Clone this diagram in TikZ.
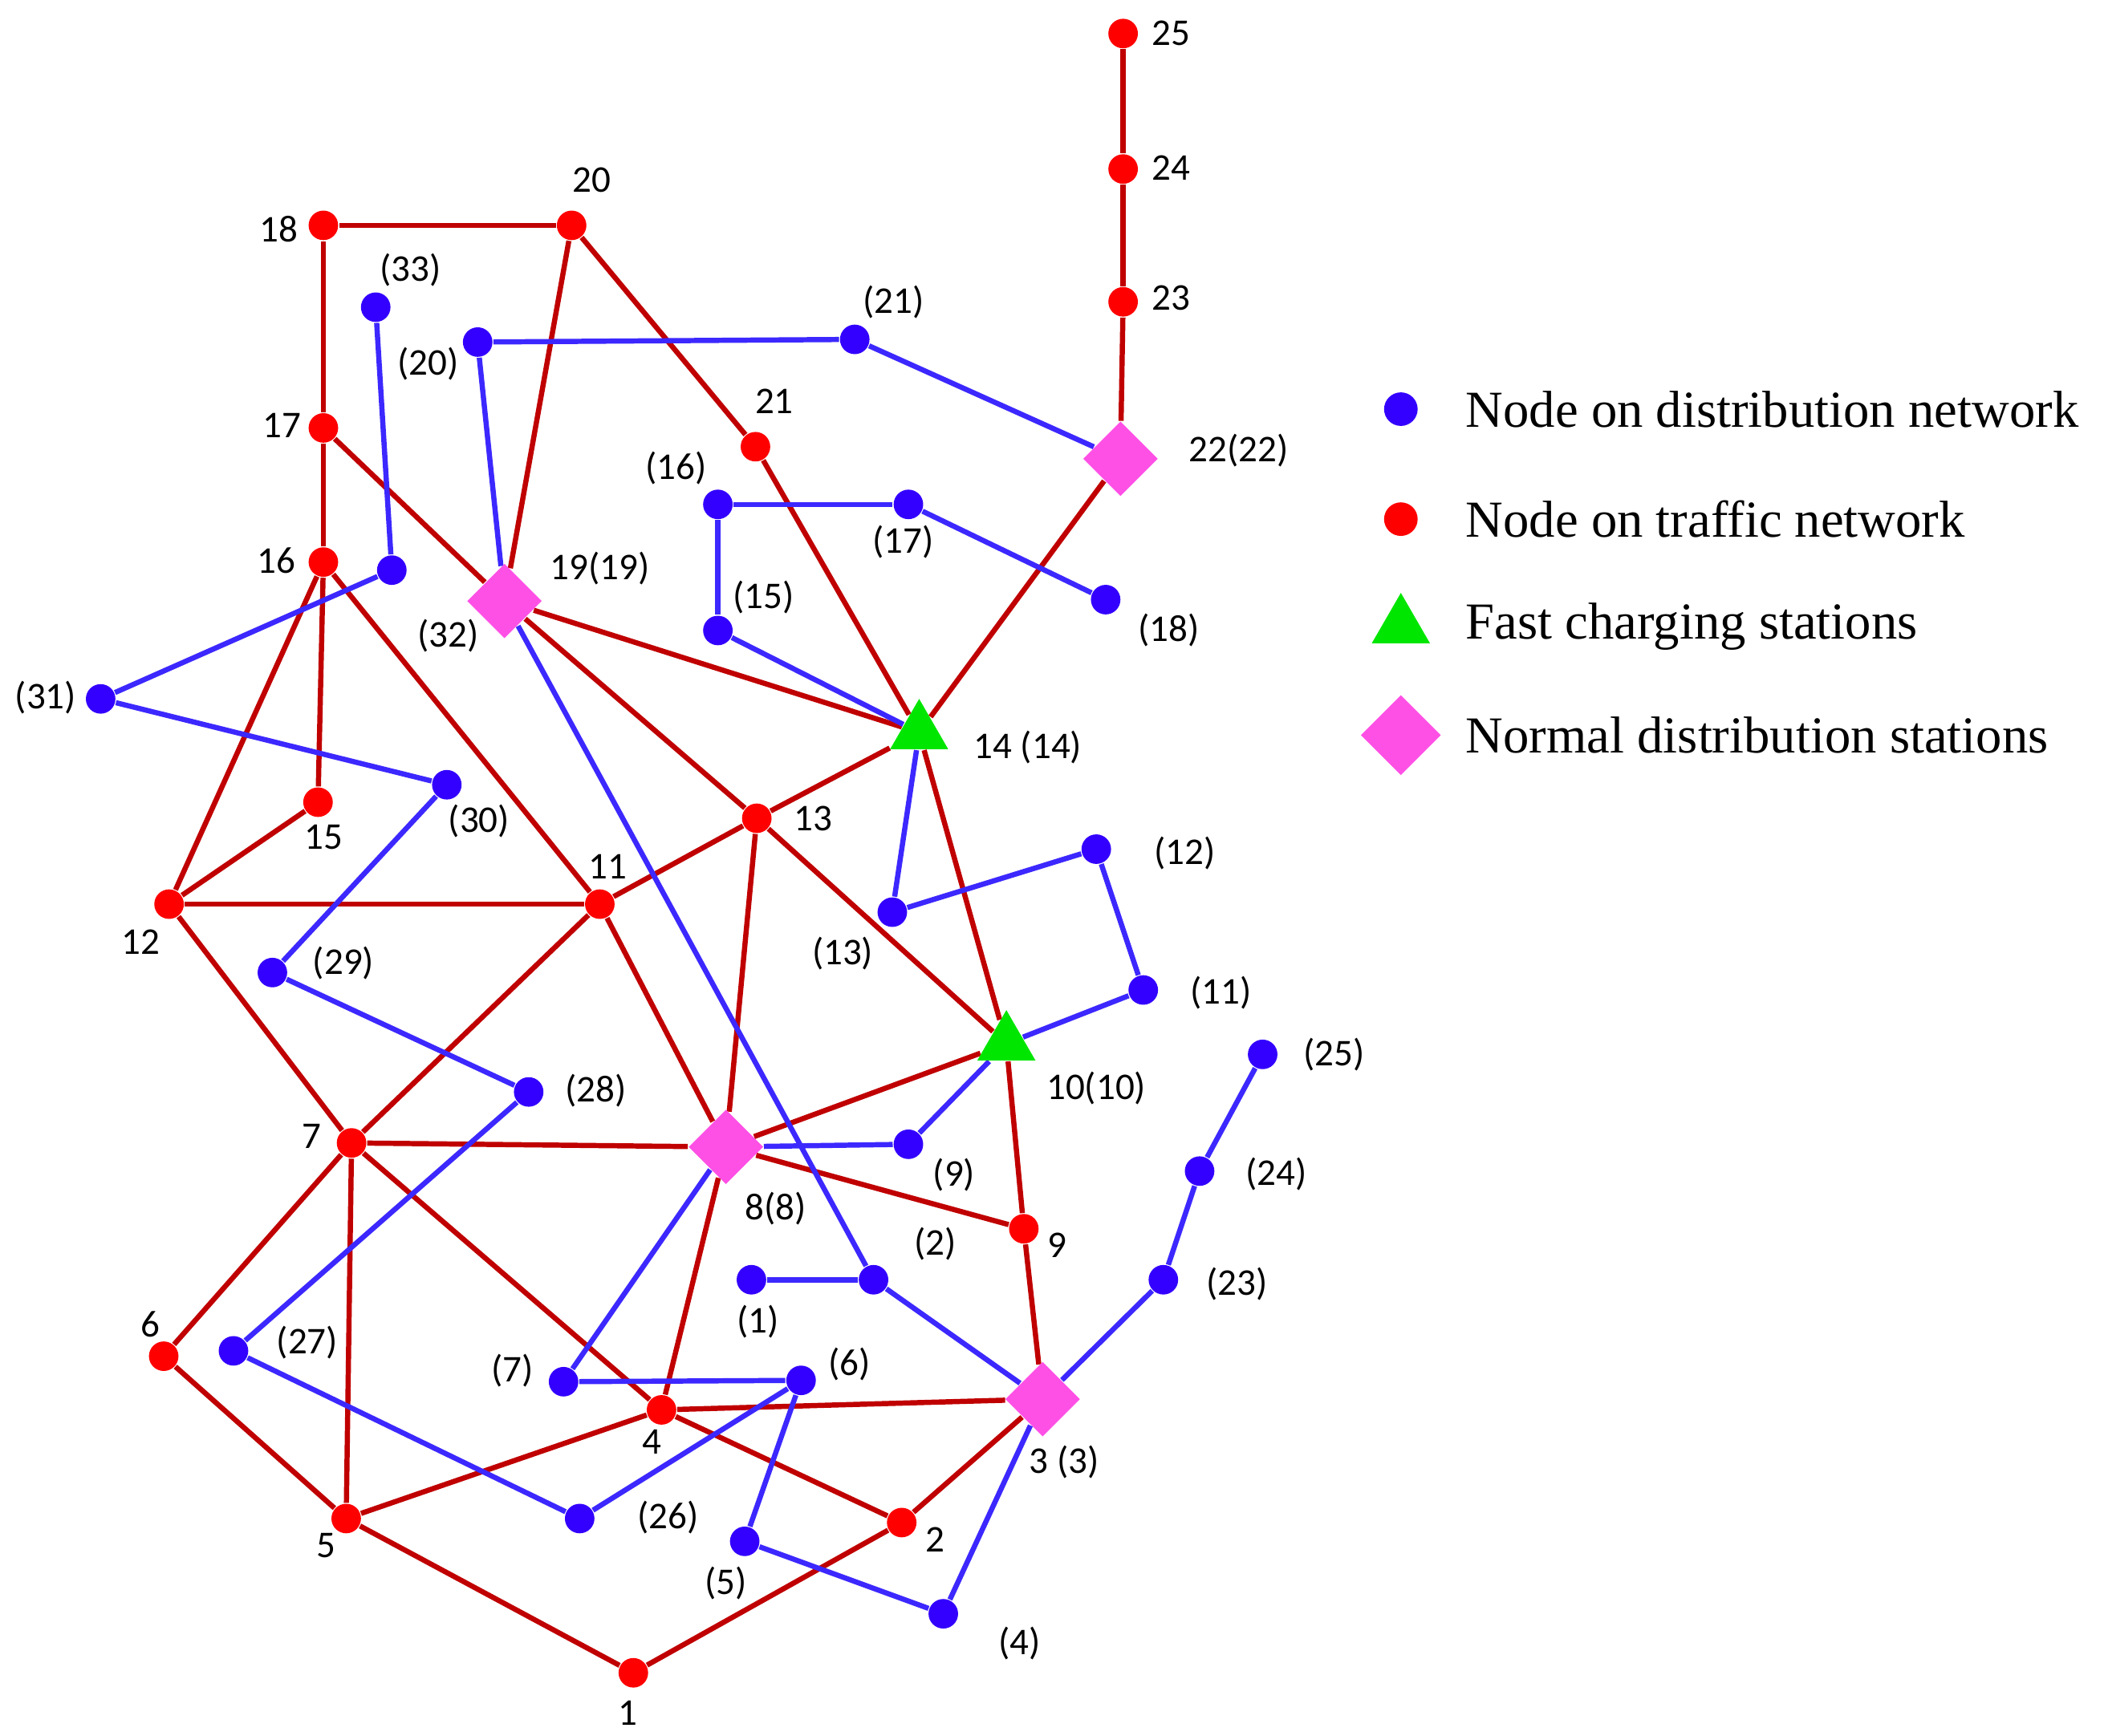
\documentclass[tikz,border=0pt]{standalone}
\usepackage{fontspec}
\setmainfont{Liberation Serif}
\newfontfamily\lblfont{Carlito}
\usetikzlibrary{positioning, shapes, backgrounds}
\definecolor{tred}{RGB}{255,0,0}
\definecolor{tline}{RGB}{192,0,0}
\definecolor{dblue}{RGB}{51,0,255}
\definecolor{dline}{RGB}{60,40,255}
\definecolor{sgreen}{RGB}{0,230,0}
\definecolor{smag}{RGB}{255,80,230}
\tikzset{
	tnode/.style={circle, fill=tred, inner sep=0pt, minimum size=0.22cm},
	dnode/.style={circle, fill=dblue, inner sep=0pt, minimum size=0.22cm},
	fastst/.style={regular polygon, regular polygon sides=3, fill=sgreen, inner sep=0pt, minimum size=0.5cm},
	normst/.style={diamond, fill=smag, inner sep=0pt, minimum size=0.56cm},
	tedge/.style={draw=tline, line width=1.1pt},
	dedge/.style={draw=dline, line width=1.1pt},
	lbl/.style={font=\lblfont\fontsize{8}{9}\selectfont},
	leg/.style={font=\fontsize{11}{13}\selectfont, anchor=west}
}
\begin{document}
\begin{tikzpicture}[x=0.01cm, y=-0.01cm]
		\useasboundingbox (0,0) rectangle (1568,1294);
		
		%traffic network
		\node (t1) at (472,1247) [tnode]{};
		\node (t2) at (672,1135) [tnode]{};
		\node (t3) at (777,1043) [normst]{};
		\node (t4) at (493,1051) [tnode]{};
		\node (t5) at (258,1132) [tnode]{};
		\node (t6) at (122,1011) [tnode]{};
		\node (t7) at (262,852) [tnode]{};
		\node (t8) at (541,855) [normst]{};
		\node (t9) at (763,916) [tnode]{};
		\node (t10) at (750,778) [fastst]{};
		\node (t11) at (447,674) [tnode]{};
		\node (t12) at (126,674) [tnode]{};
		\node (t13) at (564,610) [tnode]{};
		\node (t14) at (685,546) [fastst]{};
		\node (t15) at (237,598) [tnode]{};
		\node (t16) at (241,419) [tnode]{};
		\node (t17) at (241,319) [tnode]{};
		\node (t18) at (241,168) [tnode]{};
		\node (t19) at (376,448) [normst]{};
		\node (t20) at (426,168) [tnode]{};
		\node (t21) at (563,333) [tnode]{};
		\node (t22) at (835,342) [normst]{};
		\node (t23) at (837,225) [tnode]{};
		\node (t24) at (837,126) [tnode]{};
		\node (t25) at (837,25) [tnode]{};
		
		%distribution network
		\node (d1) at (560,954) [dnode]{};
		\node (d2) at (651,954) [dnode]{};
		\node (d4) at (703,1203) [dnode]{};
		\node (d5) at (555,1149) [dnode]{};
		\node (d6) at (597,1029) [dnode]{};
		\node (d7) at (420,1030) [dnode]{};
		\node (d9) at (677,853) [dnode]{};
		\node (d11) at (852,738) [dnode]{};
		\node (d12) at (817,633) [dnode]{};
		\node (d13) at (665,680) [dnode]{};
		\node (d15) at (535,470) [dnode]{};
		\node (d16) at (535,376) [dnode]{};
		\node (d17) at (677,376) [dnode]{};
		\node (d18) at (824,447) [dnode]{};
		\node (d20) at (356,255) [dnode]{};
		\node (d21) at (637,253) [dnode]{};
		\node (d23) at (867,954) [dnode]{};
		\node (d24) at (894,873) [dnode]{};
		\node (d25) at (941,786) [dnode]{};
		\node (d26) at (432,1132) [dnode]{};
		\node (d27) at (174,1007) [dnode]{};
		\node (d28) at (394,814) [dnode]{};
		\node (d29) at (203,725) [dnode]{};
		\node (d30) at (333,585) [dnode]{};
		\node (d31) at (75,521) [dnode]{};
		\node (d32) at (292,425) [dnode]{};
		\node (d33) at (280,229) [dnode]{};
		
		%Links
		\begin{pgfonlayer}{background}
		\foreach \a/\b in {1/5, 1/2, 2/3, 2/4, 5/6, 5/7, 5/4, 6/7, 7/12, 7/11, 7/8, 7/4, 4/8, 4/3,
			3/9, 9/8, 9/10, 8/13, 8/11, 8/10, 10/13, 10/14, 13/11, 13/14, 13/19, 11/12, 11/16,
			12/15, 12/16, 15/16, 16/17, 17/18, 18/20, 20/19, 20/21, 21/14, 17/19, 19/14, 14/22,
			22/23, 23/24, 24/25}
			\draw[tedge] (t\a) -- (t\b);
		\foreach \a/\b in {d1/d2, d2/t3, d2/t19, t3/d4, t3/d23, d23/d24, d24/d25, d4/d5, d5/d6,
			d6/d7, d6/d26, d26/d27, d27/d28, d28/d29, d29/d30, d30/d31, d31/d32, d32/d33, d7/t8,
			t8/d9, d9/t10, t10/d11, d11/d12, d12/d13, d13/t14, t14/d15, d15/d16, d16/d17, d17/d18,
			t19/d20, d20/d21, d21/t22}
			\draw[dedge] (\a) -- (\b);
		\end{pgfonlayer}
		
		%labels
		\node (l1) at (468,1277) [lbl]{1};
		\node (l2) at (697,1148) [lbl]{2};
		\node (l3) at (793,1090) [lbl]{3 (3)};
		\node (l4) at (486,1075) [lbl]{4};
		\node (l5) at (243,1152) [lbl]{5};
		\node (l6) at (112,987) [lbl]{6};
		\node (l7) at (232,847) [lbl]{7};
		\node (l8) at (578,901) [lbl]{8(8)};
		\node (l9) at (788,928) [lbl]{9};
		\node (l10) at (817,811) [lbl]{10(10)};
		\node (l11) at (453,646) [lbl]{11};
		\node (l12) at (105,702) [lbl]{12};
		\node (l13) at (606,610) [lbl]{13};
		\node (l14) at (766,557) [lbl]{14 (14)};
		\node (l15) at (241,624) [lbl]{15};
		\node (l16) at (206,418) [lbl]{16};
		\node (l17) at (210,317) [lbl]{17};
		\node (l18) at (208,171) [lbl]{18};
		\node (l19) at (447,424) [lbl]{19(19)};
		\node (l20) at (441,134) [lbl]{20};
		\node (l21) at (577,299) [lbl]{21};
		\node (l22) at (923,336) [lbl]{22(22)};
		\node (l23) at (873,222) [lbl]{23};
		\node (l24) at (873,125) [lbl]{24};
		\node (l25) at (873,25) [lbl]{25};
		\node (ld1) at (565,985) [lbl]{(1)};
		\node (ld2) at (697,927) [lbl]{(2)};
		\node (ld4) at (760,1225) [lbl]{(4)};
		\node (ld5) at (541,1180) [lbl]{(5)};
		\node (ld6) at (633,1017) [lbl]{(6)};
		\node (ld7) at (382,1022) [lbl]{(7)};
		\node (ld9) at (711,876) [lbl]{(9)};
		\node (ld11) at (910,740) [lbl]{(11)};
		\node (ld12) at (883,636) [lbl]{(12)};
		\node (ld13) at (628,711) [lbl]{(13)};
		\node (ld15) at (569,445) [lbl]{(15)};
		\node (ld16) at (504,349) [lbl]{(16)};
		\node (ld17) at (673,404) [lbl]{(17)};
		\node (ld18) at (871,470) [lbl]{(18)};
		\node (ld20) at (319,271) [lbl]{(20)};
		\node (ld21) at (666,225) [lbl]{(21)};
		\node (ld23) at (922,957) [lbl]{(23)};
		\node (ld24) at (951,875) [lbl]{(24)};
		\node (ld25) at (994,786) [lbl]{(25)};
		\node (ld26) at (498,1131) [lbl]{(26)};
		\node (ld27) at (229,1001) [lbl]{(27)};
		\node (ld28) at (444,813) [lbl]{(28)};
		\node (ld29) at (256,718) [lbl]{(29)};
		\node (ld30) at (357,612) [lbl]{(30)};
		\node (ld31) at (34,520) [lbl]{(31)};
		\node (ld32) at (334,474) [lbl]{(32)};
		\node (ld33) at (306,201) [lbl]{(33)};
		
		%legend
		\node (kd) at (1044,305) [dnode, minimum size=0.25cm]{};
		\node (kt) at (1044,387) [tnode, minimum size=0.25cm]{};
		\node (kf) at (1044,467) [fastst]{};
		\node (kn) at (1044,548) [normst, minimum size=0.6cm]{};
		\node (kdText) at (1080,305) [leg]{Node on distribution network};
		\node (ktText) at (1080,387) [leg]{Node on traffic network};
		\node (kfText) at (1080,467) [leg]{Fast charging stations};
		\node (knText) at (1080,548) [leg]{Normal distribution stations};
\end{tikzpicture}
\end{document}
